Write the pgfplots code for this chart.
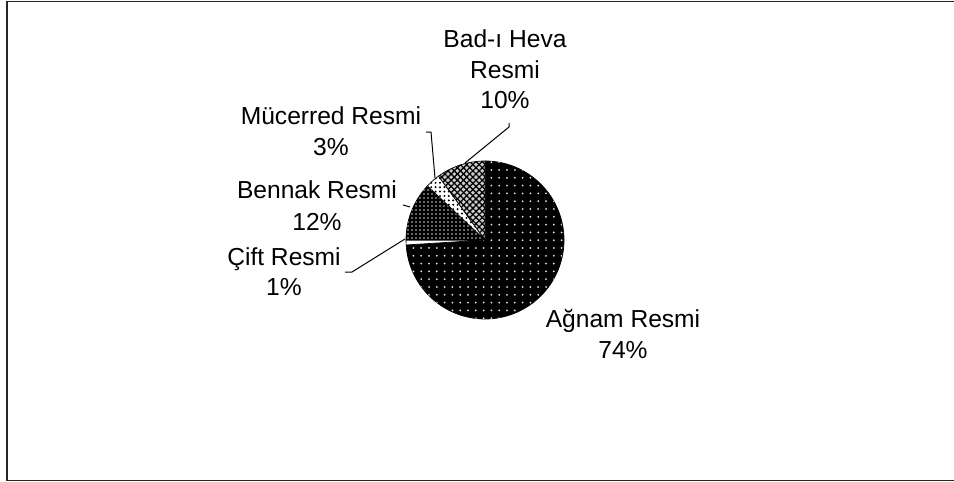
\documentclass[border=0pt]{standalone}
\usepackage{fontspec}
\setmainfont{Liberation Sans}
\usepackage{pgfplots}
\usepackage{pgfplotstable}
\pgfplotsset{compat=1.18}
\usetikzlibrary{patterns,patterns.meta}

\pgfplotstableread{
label value
Agnam 74
Cift 1
Bennak 12
Mucerred 3
BadiHeva 10
}\piedata

\tikzset{
  slice0/.style={fill=black, postaction={pattern={Dots[distance=3.9pt,radius=0.5pt]}, pattern color=white!90!black}},
  slice1/.style={fill=white},
  slice2/.style={fill=black, postaction={pattern={Dots[distance=2pt,radius=0.42pt]}, pattern color=white!80!black}},
  slice3/.style={fill=white, postaction={pattern={Dots[distance=2.2pt,radius=0.55pt]}, pattern color=black}},
  slice4/.style={fill=gray!40, postaction={pattern={Lines[angle=45,distance=2.2pt,line width=0.65pt]}, pattern color=black},
                 postaction={pattern={Lines[angle=-45,distance=2.2pt,line width=0.65pt]}, pattern color=black}},
  lbl/.style={font=\fontsize{12.3}{15}\selectfont, anchor=base, inner sep=0pt},
}

\begin{document}
\begin{tikzpicture}
\begin{axis}[
  scale only axis, width=477pt, height=241pt,
  xmin=0, xmax=954, ymin=0, ymax=482, y dir=reverse,
  hide axis, clip=true,
]
\path (rel axis cs:0,0) rectangle (rel axis cs:1,1);
% frame
\draw[line width=0.8pt, black!85] (axis cs:7,1.5) rectangle (axis cs:960,480.5);

% pie slices (clockwise from 12 o'clock)
\pgfmathsetmacro\cum{0}
\pgfplotsforeachungrouped \i in {0,...,4} {
  \pgfplotstablegetelem{\i}{value}\of\piedata
  \pgfmathsetmacro\aA{90-3.6*\cum}
  \pgfmathsetmacro\cum{\cum+\pgfplotsretval}
  \pgfmathsetmacro\aB{90-3.6*\cum}
  \edef\temp{\noexpand\draw[slice\i, draw=black, line width=0.35pt] (axis cs:485,240) -- ++(\aA:39.5pt) arc[start angle=\aA, end angle=\aB, radius=39.5pt] -- cycle;}
  \temp
}

% leader lines
\addplot[black, line width=0.5pt, no marks] coordinates {(509,123) (509,127) (465,163)};
\addplot[black, line width=0.5pt, no marks] coordinates {(426,132) (431,132) (435,178)};
\addplot[black, line width=0.5pt, no marks] coordinates {(403,205) (410,207)};
\addplot[black, line width=0.5pt, no marks] coordinates {(345,272) (352,272) (405,239)};

% labels
\node[lbl] at (axis cs:505,47) {Bad-ı Heva};
\node[lbl] at (axis cs:505,78) {Resmi};
\node[lbl] at (axis cs:505,108) {10\%};
\node[lbl] at (axis cs:331,124) {Mücerred Resmi};
\node[lbl] at (axis cs:331,155) {3\%};
\node[lbl] at (axis cs:317,198) {Bennak Resmi};
\node[lbl] at (axis cs:317,230) {12\%};
\node[lbl] at (axis cs:284,265) {Çift Resmi};
\node[lbl] at (axis cs:284,295) {1\%};
\node[lbl] at (axis cs:623,327) {Ağnam Resmi};
\node[lbl] at (axis cs:623,358) {74\%};
\end{axis}
\end{tikzpicture}
\end{document}
